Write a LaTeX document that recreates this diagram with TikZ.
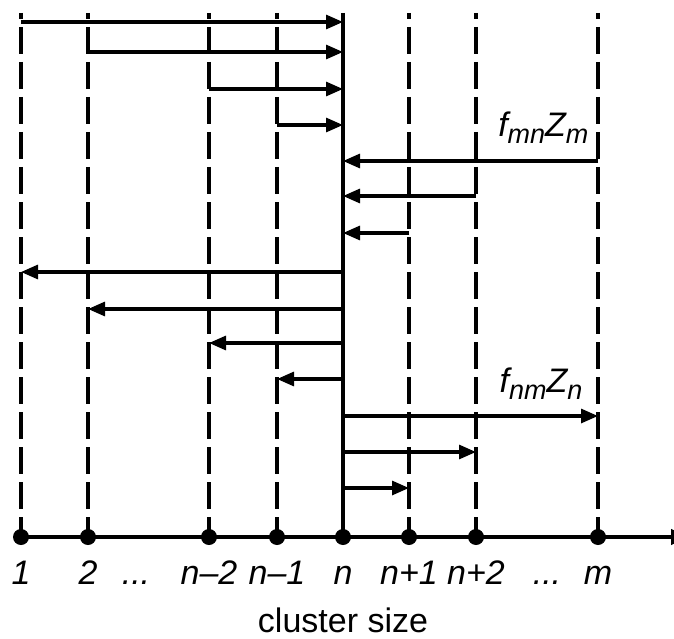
\documentclass[tikz,border=0pt]{standalone}
\usepackage{fontspec}
\setmainfont{Liberation Sans}
\usetikzlibrary{arrows.meta,calc}
\newcommand{\lowidx}[1]{\raisebox{-7pt}{\fontsize{27}{27}\selectfont #1}}

\begin{document}
\begin{tikzpicture}[x=1pt, y=-1pt, font=\fontsize{34}{40}\selectfont,
  grid/.style={line width=3.1pt, dash pattern=on 27pt off 8pt, dash phase=21pt},
  flow/.style={line width=3.1pt, -{Triangle[length=17pt,width=14pt]}},
  tick/.style={anchor=base, font=\fontsize{34}{40}\selectfont\itshape}]
\useasboundingbox (0,0) rectangle (674,639);
% points on the size axis
\foreach \name/\x in {c1/21, c2/88, cnmb/209, cnma/277, cn/343, cnpa/409, cnpb/476, cm/598}
  \coordinate (\name) at (\x,537);
\coordinate (top) at (0,13);
\coordinate (axisend) at (688,537);
% guide lines
\foreach \name in {c1, c2, cnmb, cnma, cnpa, cnpb, cm}
  \draw[grid] (\name |- top) -- (\name);
\draw[line width=3.6pt] (cn |- top) -- (cn);
% fluxes into and out of n
\foreach \from/\to/\y in {c1/cn/22, c2/cn/52, cnmb/cn/89, cnma/cn/125,
    cm/cn/161, cnpb/cn/196, cnpa/cn/233,
    cn/c1/272, cn/c2/309, cn/cnmb/343, cn/cnma/379,
    cn/cm/416, cn/cnpb/452, cn/cnpa/488}
  \draw[flow] ($(\from)+(0,\y-537)$) -- ($(\to)+(0,\y-537)$);
% axis
\draw[line width=4pt, -{Triangle[length=17pt,width=15pt]}] (c1) -- (axisend);
\foreach \name in {c1, c2, cnmb, cnma, cn, cnpa, cnpb, cm}
  \fill (\name) circle[radius=8pt];
% labels
\node[tick] (l1) at ($(c1)+(0,47)$) {1};
\node[tick] (l2) at ($(c2)+(0,47)$) {2};
\node[tick] (ldots1) at (136,584) {...};
\node[tick] (lnmb) at ($(cnmb)+(0,47)$) {n–2};
\node[tick] (lnma) at ($(cnma)+(0,47)$) {n–1};
\node[tick] (ln) at ($(cn)+(0,47)$) {n};
\node[tick] (lnpa) at ($(cnpa)+(0,47)$) {n+1};
\node[tick] (lnpb) at ($(cnpb)+(0,47)$) {n+2};
\node[tick] (ldots2) at (547,584) {...};
\node[tick] (lm) at ($(cm)+(0,47)$) {m};
\node[anchor=base] (xlabel) at (343,632) {cluster size};
\node[anchor=base east, font=\fontsize{34}{40}\selectfont\itshape] (fmn) at (592,137) {f\lowidx{mn}Z\lowidx{m}};
\node[anchor=base east, font=\fontsize{34}{40}\selectfont\itshape] (fnm) at (586,392) {f\lowidx{nm}Z\lowidx{n}};
\end{tikzpicture}
\end{document}
